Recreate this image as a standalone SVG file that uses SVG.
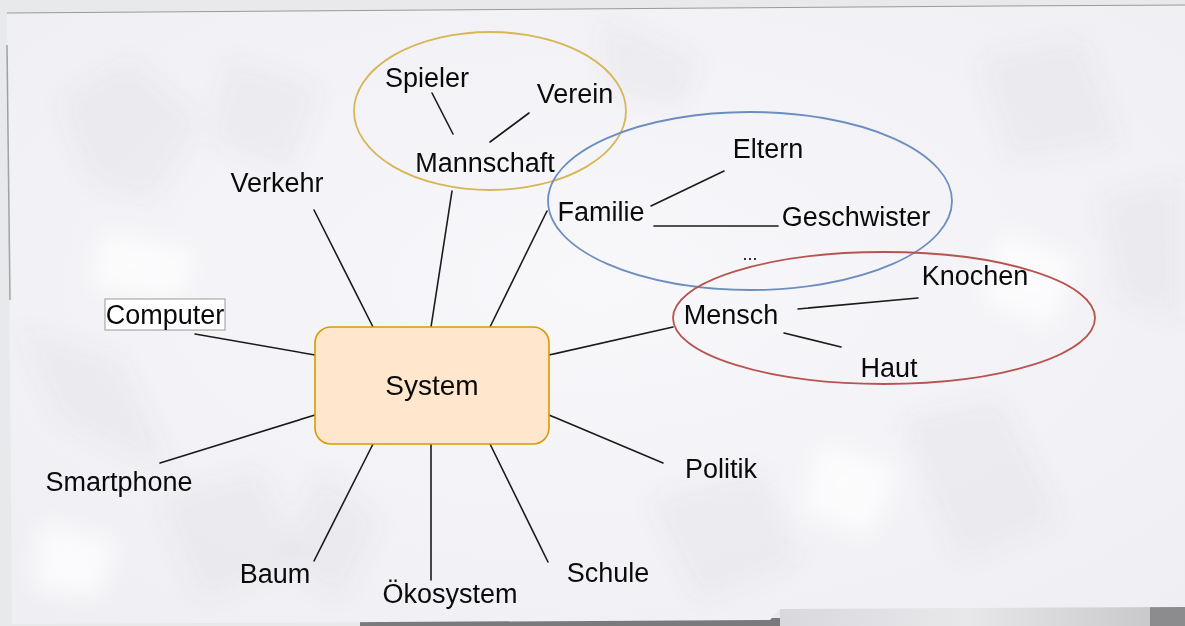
<svg xmlns="http://www.w3.org/2000/svg" width="1185" height="626" viewBox="0 0 1185 626">
<defs>
<style>
.t{font-family:"Liberation Sans",Arial,Helvetica,sans-serif;font-size:27px;fill:#0a0a0a;text-anchor:middle}
.c{stroke:#1a1a1a;stroke-width:1.6;fill:none;stroke-linecap:round}
.crease{fill:#5a5a70;opacity:0.05}
.light{fill:#fff;opacity:0.7}
</style>
<filter id="soft" x="-20%" y="-20%" width="140%" height="140%">
<feGaussianBlur stdDeviation="12"/>
</filter>
<radialGradient id="paperShade" cx="0.5" cy="0.45" r="0.75">
<stop offset="0" stop-color="#f8f8fb"/>
<stop offset="1" stop-color="#eeeef3"/>
</radialGradient>
<linearGradient id="bottomStrip" x1="0" y1="0" x2="1" y2="0">
<stop offset="0" stop-color="#d9d9dd"/>
<stop offset="0.5" stop-color="#e8e8eb"/>
<stop offset="1" stop-color="#c9c9cc"/>
</linearGradient>
<clipPath id="paperClip">
<path d="M7,13 L1000,6 L1185,5 L1185,607 L780,609 L770,620 L12,624 Z"/>
</clipPath>
</defs>
<g id="background">
<rect x="0" y="0" width="1185" height="626" fill="#e8e9eb"/>
<rect x="360" y="618" width="800" height="8" fill="#7a7a7c"/>
<rect x="780" y="607" width="370" height="19" fill="url(#bottomStrip)"/>
<rect x="1150" y="607" width="35" height="19" fill="#8c8c8e"/>
<path d="M7,13 L1000,6 L1185,5 L1185,607 L780,609 L770,620 L12,624 Z" fill="url(#paperShade)"/>
<g clip-path="url(#paperClip)" filter="url(#soft)">
<polygon class="crease" points="60,100 130,60 200,120 150,200 90,180"/>
<polygon class="crease" points="230,60 320,90 290,170 210,140"/>
<polygon class="crease" points="20,330 120,360 170,470 60,420"/>
<polygon class="crease" points="160,500 260,470 300,560 200,600"/>
<polygon class="crease" points="600,20 700,60 680,110 610,90"/>
<polygon class="crease" points="980,60 1080,40 1120,140 1010,160"/>
<polygon class="crease" points="1100,200 1180,180 1180,320 1120,300"/>
<polygon class="crease" points="900,420 1000,400 1060,520 960,560"/>
<polygon class="crease" points="650,500 760,470 800,560 700,600"/>
<polygon class="crease" points="320,470 380,520 340,600 280,560"/>
<polygon class="light" points="100,230 200,250 180,300 90,290"/>
<polygon class="light" points="820,440 900,470 870,540 800,510"/>
<polygon class="light" points="1000,230 1080,260 1050,330 980,300"/>
<polygon class="light" points="40,520 120,540 100,600 30,590"/>
</g>
<path d="M7,13 L1000,6 L1185,5" stroke="#9a9a9a" stroke-width="1" fill="none"/>
<path d="M7,45 L10,300" stroke="#555" stroke-width="1.5" fill="none" opacity="0.5"/>
</g>
<g id="groups">
<ellipse id="group-mannschaft" cx="490" cy="111" rx="136" ry="79" fill="none" stroke="#d6b656" stroke-width="1.8"/>
<ellipse id="group-familie" cx="750" cy="201" rx="202" ry="89" fill="none" stroke="#6c8ebf" stroke-width="1.8"/>
<ellipse id="group-mensch" cx="884" cy="318" rx="211" ry="66" fill="none" stroke="#b85450" stroke-width="1.8"/>
</g>
<g id="connectors">
<line class="c" x1="314" y1="210" x2="373" y2="327"/>
<line class="c" x1="452" y1="191" x2="431" y2="327"/>
<line class="c" x1="547" y1="211" x2="490" y2="327"/>
<line class="c" x1="195" y1="334" x2="315" y2="355"/>
<line class="c" x1="160" y1="463" x2="315" y2="415"/>
<line class="c" x1="314" y1="561" x2="373" y2="444"/>
<line class="c" x1="431" y1="444" x2="431" y2="580"/>
<line class="c" x1="490" y1="444" x2="548" y2="562"/>
<line class="c" x1="549" y1="415" x2="663" y2="463"/>
<line class="c" x1="549" y1="355" x2="673" y2="327"/>
<line class="c" x1="432" y1="93" x2="453" y2="134"/>
<line class="c" x1="529" y1="113" x2="490" y2="142"/>
<line class="c" x1="651" y1="206" x2="724" y2="171"/>
<line class="c" x1="654" y1="226" x2="778" y2="226"/>
<line class="c" x1="798" y1="309" x2="918" y2="298"/>
<line class="c" x1="784" y1="333" x2="841" y2="347"/>
</g>
<g id="node-system">
<rect x="315" y="327" width="234" height="117" rx="16" fill="#ffe6cc" stroke="#d79b00" stroke-width="1.6"/>
<text class="t" x="432" y="395" style="font-size:28px">System</text>
</g>
<g id="node-verkehr"><text class="t" x="277" y="192">Verkehr</text></g>
<g id="node-computer">
<rect x="105" y="299" width="120" height="31" fill="#ffffff" stroke="#999" stroke-width="1"/>
<text class="t" x="165" y="324">Computer</text>
</g>
<g id="node-smartphone"><text class="t" x="119" y="491">Smartphone</text></g>
<g id="node-baum"><text class="t" x="275" y="583">Baum</text></g>
<g id="node-oekosystem"><text class="t" x="450" y="603">Ökosystem</text></g>
<g id="node-schule"><text class="t" x="608" y="582">Schule</text></g>
<g id="node-politik"><text class="t" x="721" y="478">Politik</text></g>
<g id="node-mannschaft"><text class="t" x="485" y="172">Mannschaft</text></g>
<g id="node-spieler"><text class="t" x="427" y="87">Spieler</text></g>
<g id="node-verein"><text class="t" x="575" y="103">Verein</text></g>
<g id="node-familie"><text class="t" x="601" y="221">Familie</text></g>
<g id="node-eltern"><text class="t" x="768" y="158">Eltern</text></g>
<g id="node-geschwister"><text class="t" x="856" y="226">Geschwister</text></g>
<g id="node-dots"><text class="t" x="750" y="260" style="font-size:18px">...</text></g>
<g id="node-mensch"><text class="t" x="731" y="324">Mensch</text></g>
<g id="node-knochen"><text class="t" x="975" y="285">Knochen</text></g>
<g id="node-haut"><text class="t" x="889" y="377">Haut</text></g>
</svg>
